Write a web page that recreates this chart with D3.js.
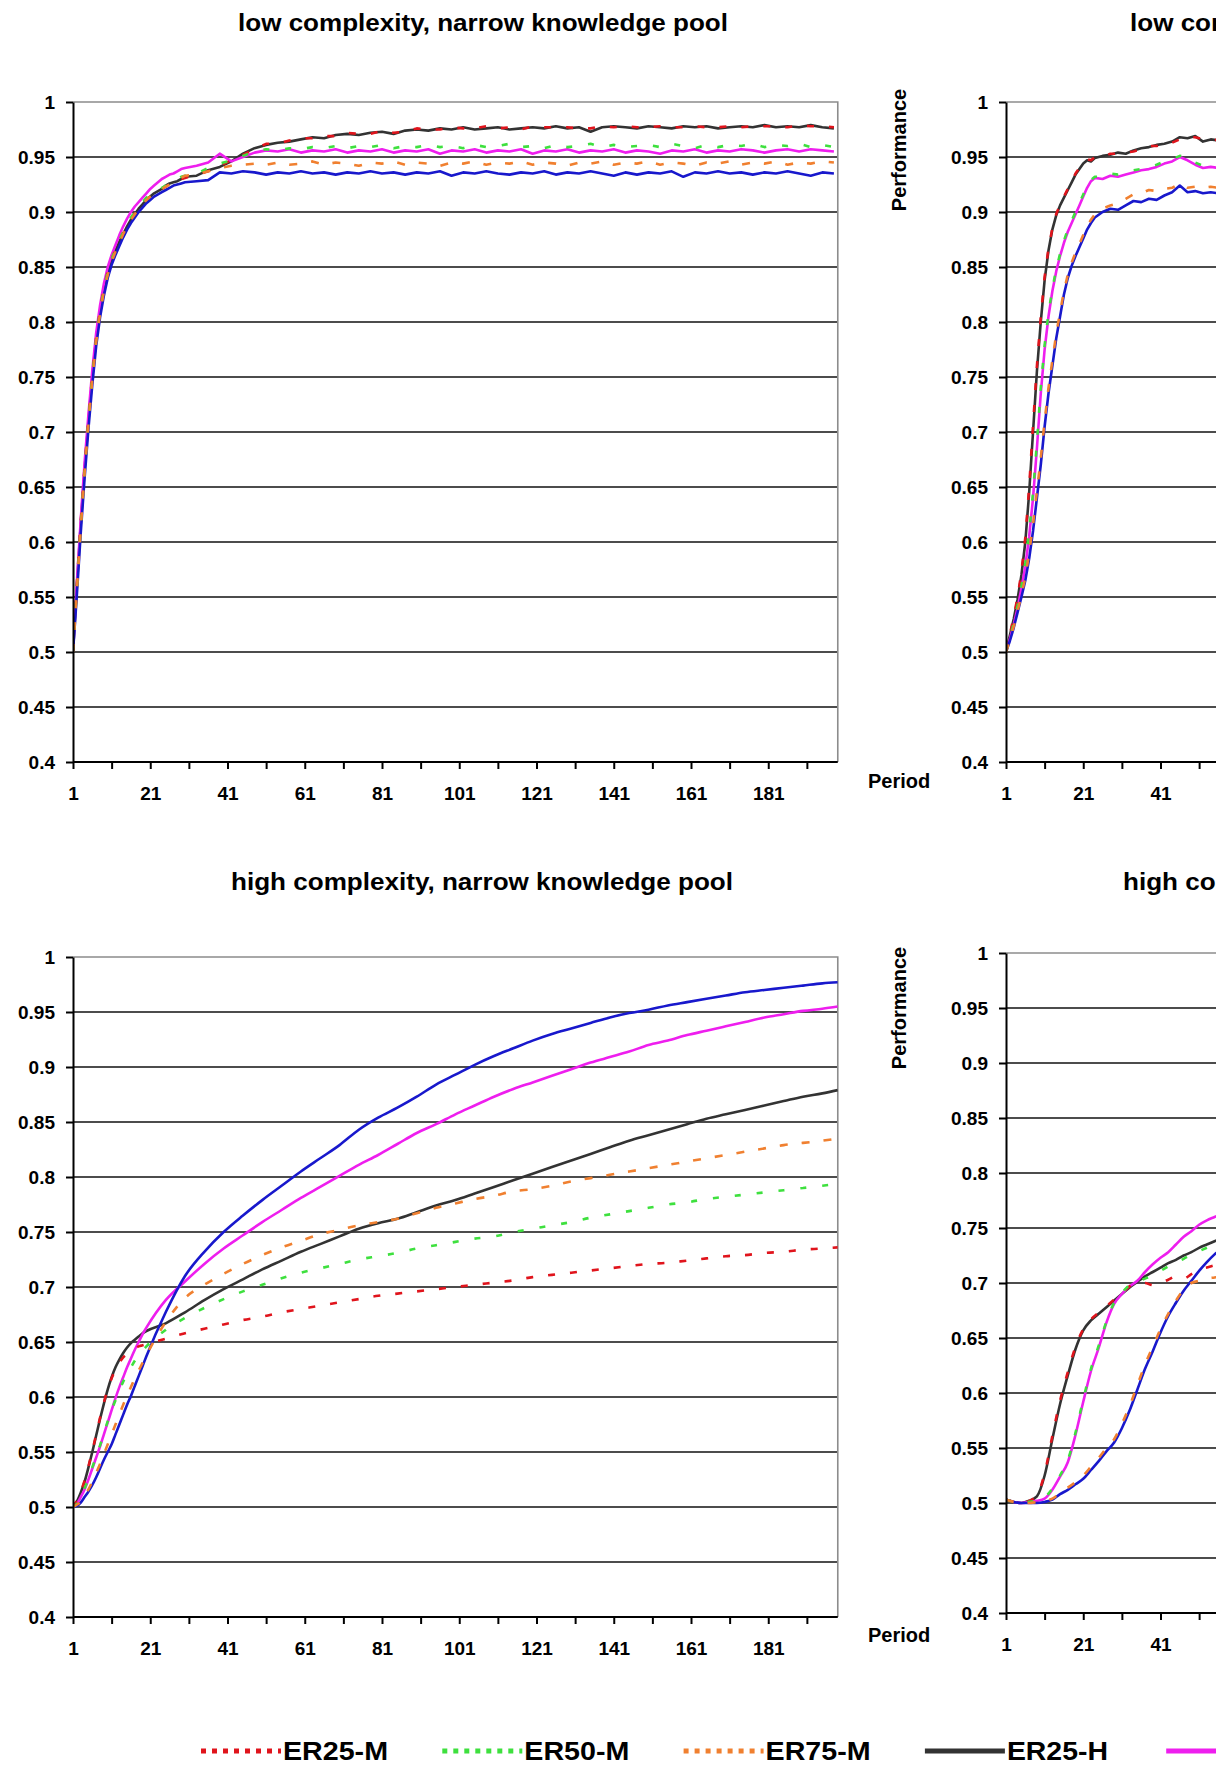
<!DOCTYPE html>
<meta charset="utf-8">
<style>
html, body {
  margin: 0;
  padding: 0;
  background: #fff;
}
svg {
  display: block;
  font-family: "Liberation Sans", Arial, sans-serif;
  font-weight: bold;
}
</style>
<body>
<svg id="fig" width="1216" height="1767"></svg>
<script src="https://cdn.jsdelivr.net/npm/d3@7/dist/d3.min.js"></script>
<script>

// series (legend order)
var seriesNames = ["ER25-M", "ER50-M", "ER75-M", "ER25-H", "ER50-H", "ER75-H"];
var seriesColors = ["#e0141c", "#3ee03e", "#f08030", "#333333", "#ee1eee", "#1818cc"];
var seriesDash = ["7,15", "6,16", "8,14", null, null, null];
var legendDash = ["5,6", "5,6", "5,6", null, null, null];
var drawOrder = [3, 4, 5, 0, 1, 2];

var yTicks = [0.4, 0.45, 0.5, 0.55, 0.6, 0.65, 0.7, 0.75, 0.8, 0.85, 0.9, 0.95, 1];
var yTickLabels = ["0.4", "0.45", "0.5", "0.55", "0.6", "0.65", "0.7", "0.75", "0.8", "0.85", "0.9", "0.95", "1"];
var xMinorTicks = [1, 11, 21, 31, 41, 51, 61, 71, 81, 91, 101, 111, 121, 131, 141, 151, 161, 171, 181, 191];
var xTickLabels = [1, 21, 41, 61, 81, 101, 121, 141, 161, 181];

// values below are performance x 1000

// low complexity, narrow knowledge pool
var periodsLowNarrow = [1,2,3,4,5,6,7,8,9,10,11,12,13,14,15,16,17,18,19,20,21,22,23,24,25,26,27,28,29,30,
  33,36,39,42,45,48,51,54,57,60,63,66,69,72,75,78,81,84,87,90,93,96,99,102,105,108,111,114,117,120,
  123,126,129,132,135,138,141,144,147,150,153,156,159,162,165,168,171,174,177,180,183,186,189,192,195,198];
var er25mLowNarrow = [500,562,618,668,712,752,786,811,831,846,857,866,874,881,888,894,899,904,908,912,
  914,917,919,921,923,925,927,929,930,931,
  934,937,942,947,952,957,962,962,965,967, 967,969,969,972,971,971,974,972,973,976,
  975,975,977,976,976,978,976,977,975,978, 977,977,977,976,976,978,977,978,977,977,
  978,977,977,978,977,977,978,977,978,978, 978,977,979,978,978,977];
var er50mLowNarrow = [500,558,614,665,710,750,784,810,830,845,857,866,874,882,889,895,900,905,909,913,
  916,918,920,922,924,926,928,930,932,933,
  935,940,944,947,951,955,957,956,958,957, 959,958,960,958,960,959,961,958,960,959,
  961,959,960,958,961,959,960,962,959,960, 958,961,959,960,962,959,961,959,960,961,
  959,962,960,958,961,959,961,960,962,959, 961,960,962,959,961,959];
var er75mLowNarrow = [500,556,612,663,708,748,782,808,828,843,855,864,872,880,887,893,898,903,907,911,
  914,916,919,921,923,925,927,929,931,933,
  934,937,940,942,943,944,943,945,943,944, 946,943,945,944,942,945,944,946,943,945,
  944,942,945,944,946,943,945,944,946,943, 945,944,942,945,944,946,943,945,944,946,
  943,945,944,942,945,944,946,943,945,944, 946,943,945,944,946,945];
var er25hLowNarrow = [500,560,616,666,710,750,785,810,830,845,856,865,873,880,887,893,898,903,907,911,
  914,917,919,921,924,926,927,928,930,932,
  933,938,941,946,953,958,961,963,964,966, 968,967,970,971,970,972,973,971,974,975,
  974,976,975,977,975,976,977,975,976,977, 976,978,976,977,973,977,978,977,976,978,
  977,976,978,977,978,976,977,978,977,979, 977,978,977,979,977,976];
var er50hLowNarrow = [500,563,620,672,716,756,790,815,835,850,861,870,879,887,894,900,905,909,913,917,
  921,924,927,930,932,934,935,937,939,940,
  942,945,953,946,950,954,956,955,957,954, 956,955,957,954,956,955,957,954,956,955,
  957,953,956,955,957,954,956,955,957,953, 956,955,957,954,956,955,957,954,956,955,
  953,956,955,957,954,956,955,957,956,954, 956,957,955,957,956,955];
var er75hLowNarrow = [500,552,608,658,703,743,778,804,824,840,852,861,869,877,884,890,895,900,904,908,
  911,914,916,918,920,922,924,925,926,927,
  928,929,936,935,937,936,934,936,935,937, 935,936,934,936,935,937,935,936,934,936,
  935,937,933,936,935,937,935,934,936,935, 937,934,936,935,937,935,933,936,934,936,
  935,937,932,936,935,937,935,936,934,936, 935,937,935,933,936,935];

// low complexity, broad knowledge pool (visible part)
var periodsLowBroad = [1,2,3,4,5,6,7,8,9,10,11,12,13,14,15,16,17,18,19,20,21,22,23,24,
  26,28,30,32,34,36,38,40,42,44,46,48,50,52,54,56];
var er25mLowBroad = [500,516,532,550,573,604,650,706,760,804,841,867,885,898,907,914,921,928,935,940,945,948,947,950,
  950,953,953,954,955,957,960,960,963,963,966,968,968,966,965,966];
var er50mLowBroad = [500,513,526,542,560,581,609,645,690,740,779,808,830,848,862,874,884,892,900,908,916,923,929,932,
  932,935,934,936,938,939,941,943,946,948,951,950,945,942,943,942];
var er75mLowBroad = [500,511,523,537,552,568,590,616,646,676,710,740,765,789,809,828,843,854,863,871,879,887,893,898,
  903,906,908,912,916,917,920,919,921,922,926,922,923,922,923,922];
var er25hLowBroad = [500,515,530,548,570,600,645,700,755,800,838,865,884,897,906,913,920,927,934,939,944,947,946,949,
  951,952,954,953,956,958,959,961,962,964,968,967,969,964,966,965];
var er50hLowBroad = [500,512,525,540,558,578,605,640,685,735,775,805,828,846,860,872,882,890,898,906,914,922,928,931,
  930,933,932,934,936,938,939,941,944,946,950,947,943,940,941,940];
var er75hLowBroad = [500,510,522,536,550,565,585,610,640,670,705,735,760,785,805,825,840,851,860,868,876,884,890,895,
  900,903,902,906,910,909,912,911,915,918,924,918,919,917,918,917];

// high complexity, narrow knowledge pool
var periodsHighNarrow = [1,2,3,4,5,6,7,8,9,10,11,12,13,14,15,16,17,18,19,20,
  25,30,35,40,45,50,55,60,65,70,75,80,85,90,95,100,105,110,115,120,
  125,130,135,140,145,150,155,160,165,170,175,180,185,190,195,199];
var er25mHighNarrow = [500,506,514,524,537,551,566,581,595,607,617,625,631,636,639,642,644,646,647,648,
  653,658,662,666,670,673,677,680,683,686, 689,692,694,696,698,700,702,704,706,709,
  711,713,715,717,719,721,722,724,726,728, 729,731,732,734,735,736];
var er50mHighNarrow = [500,503,509,517,526,536,546,556,567,578,588,597,606,614,621,627,633,638,642,646,
  661,672,681,689,696,702,708,713,717,721, 725,728,731,735,738,741,744,746,750,753,
  756,759,763,766,769,772,775,777,780,782, 784,786,788,790,792,794];
var er75mHighNarrow = [500,502,505,510,516,523,531,539,548,557,566,575,584,593,601,609,617,624,631,638,
  668,690,702,712,721,729,736,742,748,752, 756,759,762,767,772,776,780,783,787,789,
  792,796,799,802,805,808,811,814,817,820, 823,826,829,831,833,835];
var er25hHighNarrow = [500,505,513,523,536,550,565,580,594,607,618,627,634,640,645,649,652,655,658,660,
  667,677,688,698,707,716,724,732,739,746, 753,758,762,768,774,779,785,791,797,803,
  809,815,821,827,833,838,843,848,853,857, 861,865,869,873,876,879];
var er50hHighNarrow = [500,503,509,516,525,535,545,555,566,577,588,599,609,618,627,635,643,650,657,663,
  688,705,721,735,747,759,770,781,791,801, 811,820,830,840,848,857,865,873,880,886,
  892,898,904,909,914,920,924,929,933,937, 941,945,948,951,953,955];
var er75hHighNarrow = [500,501,504,509,514,520,527,535,543,550,557,566,575,584,593,601,610,619,628,637,
  677,710,732,750,765,779,792,805,817,829, 843,854,863,873,884,893,902,910,917,924,
  930,935,940,945,949,952,956,959,962,965, 968,970,972,974,976,977];

// high complexity, broad knowledge pool (visible part)
var periodsHighBroad = [1,3,5,7,9,11,13,15,17,19,21,23,25,27,29,31,33,35,37,39,41,43,45,47,49,51,53,55,57];
var er25mHighBroad = [503,501,500,502,507,527,561,593,619,642, 658,667,673,679,685,691,697,700,700,698,
  700,703,706,704,708,712,714,716,717];
var er50mHighBroad = [503,501,500,501,502,505,513,525,539,564, 594,622,643,665,682,691,698,701,704,707,
  711,715,719,722,726,729,732,735,737];
var er75mHighBroad = [503,501,500,500,501,502,504,509,514,519, 525,533,541,550,558,572,588,607,626,642,
  658,672,684,694,700,702,704,705,706];
var er25hHighBroad = [503,501,500,502,506,525,558,590,616,640, 657,666,672,678,684,690,696,701,706,710,
  714,718,721,725,728,732,735,738,741];
var er50hHighBroad = [503,501,500,501,502,504,512,524,537,562, 592,620,641,664,681,690,697,702,710,717,
  723,728,735,742,747,753,757,760,763];
var er75hHighBroad = [503,501,500,500,500,501,503,508,512,517, 522,530,538,547,555,568,584,603,622,638,
  655,670,682,693,702,711,719,726,732];

var PX_PER_PERIOD = 3.8625;
var WIDTH = 1216;

var charts = [
  { title: "low complexity, narrow knowledge pool", titleX: 483, titleY: 31, titleAnchor: "middle", titleLen: 490,
    axisX: 73, top: 102, bottom: 762, labelBase: 800, smooth: false, periodLabel: [868, 788],
    periods: periodsLowNarrow,
    series: [er25mLowNarrow, er50mLowNarrow, er75mLowNarrow, er25hLowNarrow, er50hLowNarrow, er75hLowNarrow] },
  { title: "low complexity, broad knowledge pool", titleX: 1130, titleY: 31, titleAnchor: "start",
    axisX: 1006, top: 102, bottom: 762, labelBase: 800, smooth: false, perfLabel: [906, 150],
    periods: periodsLowBroad,
    series: [er25mLowBroad, er50mLowBroad, er75mLowBroad, er25hLowBroad, er50hLowBroad, er75hLowBroad] },
  { title: "high complexity, narrow knowledge pool", titleX: 482, titleY: 890, titleAnchor: "middle", titleLen: 502,
    axisX: 73, top: 957, bottom: 1617, labelBase: 1655, smooth: true, periodLabel: [868, 1642],
    periods: periodsHighNarrow,
    series: [er25mHighNarrow, er50mHighNarrow, er75mHighNarrow, er25hHighNarrow, er50hHighNarrow, er75hHighNarrow] },
  { title: "high complexity, broad knowledge pool", titleX: 1123, titleY: 890, titleAnchor: "start",
    axisX: 1006, top: 953, bottom: 1613, labelBase: 1651, smooth: true, perfLabel: [906, 1008],
    periods: periodsHighBroad,
    series: [er25mHighBroad, er50mHighBroad, er75mHighBroad, er25hHighBroad, er50hHighBroad, er75hHighBroad] }
];

var svg = d3.select("#fig");
svg.append("rect").attr("width", WIDTH).attr("height", 1767).attr("fill", "#fff");

var titleRatio = 1;

charts.forEach(function(cfg, idx) {
  var g = svg.append("g");
  var x = d3.scaleLinear().domain([1, 199]).range([cfg.axisX, cfg.axisX + 198 * PX_PER_PERIOD]);
  var y = d3.scaleLinear().domain([0.4, 1]).range([cfg.bottom, cfg.top]);
  var x0 = x(1), x1 = x(199);
  var xRight = Math.min(x1, WIDTH);

  // title (the right-hand titles run off the page, as in the source figure)
  var t = g.append("text")
    .attr("x", cfg.titleX).attr("y", cfg.titleY)
    .attr("text-anchor", cfg.titleAnchor)
    .attr("font-size", 24)
    .text(cfg.title);
  var natural = t.node().getComputedTextLength();
  if (cfg.titleLen) {
    titleRatio = cfg.titleLen / natural;
    t.attr("textLength", cfg.titleLen);
  } else {
    t.attr("textLength", natural * titleRatio);
  }
  t.attr("lengthAdjust", "spacingAndGlyphs");

  // gridlines
  g.append("g").selectAll("line")
    .data(yTicks.filter(function(d) { return d > 0.41 && d < 0.99; }))
    .join("line")
    .attr("x1", x0).attr("x2", xRight)
    .attr("y1", function(d) { return y(d); })
    .attr("y2", function(d) { return y(d); })
    .attr("stroke", "#111").attr("stroke-width", 1.6);

  // plot area border, top and right
  var border = "M" + x0 + "," + y(1) + "H" + xRight;
  if (x1 <= WIDTH) border += "V" + y(0.4);
  g.append("path")
    .attr("d", border)
    .attr("fill", "none").attr("stroke", "#8c8c8c").attr("stroke-width", 1.6);

  // data lines
  var clipId = "clip" + idx;
  g.append("clipPath").attr("id", clipId).append("rect")
    .attr("x", x0).attr("y", y(1) - 4)
    .attr("width", xRight - x0).attr("height", y(0.4) - y(1) + 8);

  var line = d3.line()
    .x(function(d) { return x(d.p); })
    .y(function(d) { return y(d.v); })
    .curve(cfg.smooth ? d3.curveMonotoneX : d3.curveLinear);

  var lg = g.append("g").attr("clip-path", "url(#" + clipId + ")");
  drawOrder.forEach(function(k) {
    var pts = cfg.periods.map(function(p, i) { return { p: p, v: cfg.series[k][i] / 1000 }; });
    lg.append("path").datum(pts)
      .attr("d", line)
      .attr("fill", "none")
      .attr("stroke", seriesColors[k])
      .attr("stroke-width", 2.6)
      .attr("stroke-linejoin", "round")
      .attr("stroke-dasharray", seriesDash[k]);
  });

  // axes
  var yAxis = d3.axisLeft(y)
    .tickValues(yTicks)
    .tickFormat(function(d, i) { return yTickLabels[i]; })
    .tickSize(7).tickSizeOuter(0).tickPadding(11);
  var ya = g.append("g").attr("transform", "translate(" + x0 + ",0)").call(yAxis);

  // only ticks that land on the page
  var visibleTicks = xMinorTicks.filter(function(d) { return x(d) < WIDTH - 2; });
  var xAxis = d3.axisBottom(x)
    .tickValues(visibleTicks)
    .tickFormat(function(d) { return xTickLabels.indexOf(d) >= 0 && x(d) < WIDTH - 14 ? d : ""; })
    .tickSize(7).tickSizeOuter(0)
    .tickPadding(cfg.labelBase - cfg.bottom - 7 - 13.5);
  var xa = g.append("g").attr("transform", "translate(0," + cfg.bottom + ")").call(xAxis);
  xa.select(".domain").attr("d", "M" + x0 + ",0H" + xRight);

  [ya, xa].forEach(function(a) {
    a.attr("font-family", null).attr("font-size", null);
    a.select(".domain").attr("stroke", "#000").attr("stroke-width", 2);
    a.selectAll(".tick line").attr("stroke", "#000").attr("stroke-width", 2);
    a.selectAll(".tick text").attr("fill", "#000").attr("font-size", 19).attr("font-weight", "bold");
  });

  // axis titles
  if (cfg.periodLabel) {
    g.append("text")
      .attr("x", cfg.periodLabel[0]).attr("y", cfg.periodLabel[1])
      .attr("font-size", 20)
      .text("Period");
  }
  if (cfg.perfLabel) {
    g.append("text")
      .attr("transform", "translate(" + cfg.perfLabel[0] + "," + cfg.perfLabel[1] + ") rotate(-90)")
      .attr("text-anchor", "middle")
      .attr("font-size", 20)
      .text("Performance");
  }
});

// legend (entries past the right edge are not on the page)
var legend = svg.append("g");
seriesNames.forEach(function(name, i) {
  var lx = 201 + i * 241.3;
  if (lx >= WIDTH) return;
  legend.append("line")
    .attr("x1", lx).attr("x2", Math.min(lx + 80, WIDTH))
    .attr("y1", 1751).attr("y2", 1751)
    .attr("stroke", seriesColors[i])
    .attr("stroke-width", 5)
    .attr("stroke-dasharray", legendDash[i]);
  if (lx + 82 >= WIDTH) return;
  legend.append("text")
    .attr("x", lx + 82).attr("y", 1760)
    .attr("font-size", 25)
    .attr("textLength", i < 3 ? 105 : 101)
    .attr("lengthAdjust", "spacingAndGlyphs")
    .text(name);
});
</script>
</body>
